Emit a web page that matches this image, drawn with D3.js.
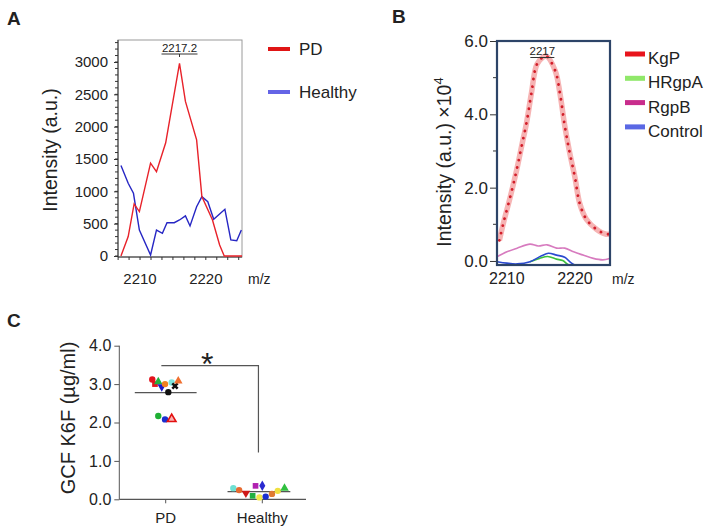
<!DOCTYPE html>
<html><head><meta charset="utf-8">
<script src="https://cdn.jsdelivr.net/npm/d3@7"></script>
<style>
html,body{margin:0;padding:0;background:#fff;}
text{font-family:"Liberation Sans",Arial,sans-serif;fill:#222;}
</style></head>
<body><svg id="c" width="711" height="531"></svg>
<script>
// ---------- Panel A data ----------
const aPdMz = [2207.1,2208.2,2209.1,2209.9,2211.6,2212.5,2213.9,2216.0,2216.9,2218.6,2219.4,2221.0,2222.1,2222.8,2225.5];
const aPdVal = [0,300,805,686,1435,1305,1750,2980,2390,1795,920,560,170,0,0];
const aHealthyMz = [2207.1,2208.2,2209.0,2209.9,2211.6,2212.5,2213.4,2214.1,2215.2,2216.0,2216.9,2217.6,2218.6,2219.4,2220.3,2221.2,2222.9,2223.8,2224.7,2225.4];
const aHealthyVal = [1400,1125,970,402,15,400,350,515,515,557,620,465,763,918,840,568,723,248,237,402];
const aYTicks = [0,500,1000,1500,2000,2500,3000];
const aXTicks = [2210,2220];
const aPeakLabel = "2217.2";
const aLegend = ["PD","Healthy"];

// ---------- Panel B data ----------
const bKgpMz = [2208.9,2209.5,2210.5,2211.4,2212.2,2212.9,2213.6,2214.4,2215.3,2215.8,2217.1,2217.8,2218.5,2219.2,2220.0,2220.7,2221.7,2223.2,2224.6,2225.2];
const bKgpVal = [0.56,1.04,1.75,2.45,3.16,3.78,4.57,5.36,5.56,5.59,5.19,4.57,3.69,2.98,2.28,1.57,1.13,0.86,0.73,0.74];
const bRgpbMz = [2208.6,2210.0,2211.5,2213.4,2214.6,2215.9,2217.3,2218.5,2219.8,2221.2,2222.7,2224.1,2225.1];
const bRgpbVal = [0.12,0.25,0.35,0.46,0.41,0.44,0.35,0.35,0.25,0.16,0.07,0.03,0.07];
const bControlMz = [2208.6,2210.0,2211.5,2213.4,2215.1,2216.1,2217.3,2218.5,2219.5,2220.5];
const bControlVal = [-0.02,-0.06,-0.08,-0.02,0.14,0.21,0.16,0.10,-0.06,-0.15];
const bHrgpaMz = [2213.4,2214.8,2216.0,2217.3,2218.2,2219.1,2220.0];
const bHrgpaVal = [-0.02,0.07,0.12,0.05,0.01,-0.11,-0.15];
const bYTicks = [0,2,4,6];
const bYMinor = [1,3,5];
const bXTicks = [2210,2220];
const bPeakLabel = "2217";
const bLegend = ["KgP","HRgpA","RgpB","Control"];

// ---------- Panel C data ----------
const cCategories = ["PD","Healthy"];
const cPdVal = [3.12,3.00,3.06,2.93,3.00,3.04,2.95,3.08,2.79,2.17,2.08,2.09];
const cPdJitter = [-0.139,-0.111,-0.077,-0.041,-0.007,0.062,0.096,0.130,0.027,-0.077,-0.007,0.062];
const cPdShape = ["circle","square","triangle","tridown","circle","circle","x","triangle","circle","circle","circle","triopen"];
const cPdColor = ["#e3121c","#e3121c","#22b040","#1a1ac8","#f08020","#7ee6de","#111111","#f07030","#111111","#1fb034","#1a2ed0","#e31010"];
const cHealthyVal = [0.29,0.24,0.16,0.09,0.35,0.05,0.35,0.07,0.14,0.22,0.29];
const cHealthyJitter = [-0.30,-0.24,-0.17,-0.10,-0.07,-0.03,0.0,0.035,0.10,0.16,0.23];
const cHealthyShape = ["circle","circle","tridown","square","square","circle","diamond","circle","circle","circle","triangle"];
const cHealthyColor = ["#6fe0d2","#e86a30","#d01818","#22b040","#b020b0","#f2e64a","#2a2ad0","#1a2ed0","#e07a30","#f0e040","#30c040"];
const cPdMean = 2.78, cHealthyMean = 0.20;
const cYTicks = [0,1,2,3,4];
const cSigTop = 3.48, cSigBottom = 1.22;

// ---------- drawing ----------
const svg = d3.select("#c");
const FONT = '"Liberation Sans",Arial,sans-serif';

function panelLabel(t,x,y){
  svg.append("text").attr("x",x).attr("y",y).attr("font-size",19).attr("font-weight","bold").attr("fill","#111").text(t);
}

// ===== Panel A =====
panelLabel("A",7,25);
{
  const L=118,R=242,T=40,B=257;
  const x = d3.scaleLinear().domain([2206.65,2225.5]).range([L,R]);
  const y = d3.scaleLinear().domain([0,3000]).range([256,62]);
  const g = svg.append("g");
  g.append("rect").attr("x",L).attr("y",T).attr("width",R-L).attr("height",B-T)
    .attr("fill","none").attr("stroke","#9a9a9a").attr("stroke-width",1);
  const yAxis = d3.axisLeft(y).tickValues(aYTicks).tickSize(4).tickPadding(6).tickFormat(d3.format("d"));
  const ya = g.append("g").attr("transform",`translate(${L},0)`).call(yAxis);
  ya.select(".domain").attr("d",`M0,${T}V${B}`).attr("stroke","#333");
  ya.selectAll("text").attr("font-size",15).attr("font-family",FONT).attr("fill","#222");
  ya.selectAll(".tick line").attr("stroke","#333");
  const yMinor = d3.range(0,3400,100);
  g.append("g").selectAll("line").data(yMinor).join("line")
    .attr("x1",L-3).attr("x2",L).attr("y1",d=>y(d)).attr("y2",d=>y(d)).attr("stroke","#333");
  g.append("line").attr("x1",L).attr("x2",R).attr("y1",B).attr("y2",B).attr("stroke","#333");
  const xMinor = d3.range(0,12).map(i=>2210+(i-2)*5/3).filter(v=>x(v)>=L&&x(v)<=R);
  g.append("g").selectAll("line").data(xMinor).join("line")
    .attr("x1",d=>x(d)).attr("x2",d=>x(d)).attr("y1",B).attr("y2",B+3).attr("stroke","#333");
  g.append("g").selectAll("text").data(aXTicks).join("text")
    .attr("x",d=>x(d)).attr("y",284).attr("text-anchor","middle").attr("font-size",15).text(d=>d);
  g.append("text").attr("x",248).attr("y",284).attr("font-size",14).text("m/z");
  g.append("text").attr("transform",`translate(57,150) rotate(-90)`).attr("text-anchor","middle")
    .attr("font-size",19.5).text("Intensity (a.u.)");
  const line = d3.line().x(d=>x(d[0])).y(d=>y(d[1]));
  g.append("path").datum(aHealthyMz.map((m,i)=>[m,aHealthyVal[i]])).attr("d",line)
    .attr("fill","none").attr("stroke","#2626c4").attr("stroke-width",1.4);
  g.append("path").datum(aPdMz.map((m,i)=>[m,aPdVal[i]])).attr("d",line)
    .attr("fill","none").attr("stroke","#e8222a").attr("stroke-width",1.4);
  const pk = aPdMz[aPdVal.indexOf(d3.max(aPdVal))];
  g.append("text").attr("x",x(pk)).attr("y",52).attr("text-anchor","middle").attr("font-size",11.5).text(aPeakLabel);
  g.append("line").attr("x1",x(pk)-18).attr("x2",x(pk)+18).attr("y1",54).attr("y2",54).attr("stroke","#333");
  g.append("line").attr("x1",x(pk)).attr("x2",x(pk)).attr("y1",54).attr("y2",57).attr("stroke","#333");
  const lc = ["#e01515","#6464e6"];
  aLegend.forEach((t,i)=>{
    const yy = 49 + i*43;
    g.append("rect").attr("x",268).attr("y",yy-2).attr("width",22).attr("height",4).attr("fill",lc[i]);
    g.append("text").attr("x",299).attr("y",yy+6).attr("font-size",17).text(t);
  });
}

// ===== Panel B =====
panelLabel("B",392,23);
{
  const L=497,R=610,T=41,B=265;
  const x = d3.scaleLinear().domain([2208.55,2225.15]).range([L,R]);
  const y = d3.scaleLinear().domain([-0.11,6.0]).range([B,T]);
  const g = svg.append("g");
  const clipId="clipB";
  g.append("clipPath").attr("id",clipId).append("rect").attr("x",L).attr("y",T).attr("width",R-L).attr("height",B-T);
  const ya = g.append("g").attr("transform",`translate(${L},0)`)
    .call(d3.axisLeft(y).tickValues(bYTicks).tickSize(7).tickPadding(2).tickFormat(d3.format(".1f")));
  ya.select(".domain").remove();
  ya.selectAll("text").attr("font-size",17).attr("font-family",FONT).attr("fill","#222");
  ya.selectAll(".tick line").attr("stroke","#333");
  g.append("g").selectAll("line").data(bYMinor).join("line")
    .attr("x1",L-4).attr("x2",L).attr("y1",d=>y(d)).attr("y2",d=>y(d)).attr("stroke","#333");
  g.append("g").selectAll("text").data(bXTicks).join("text")
    .attr("x",d=>x(d)).attr("y",284).attr("text-anchor","middle").attr("font-size",16).text(d=>d);
  g.append("text").attr("x",612).attr("y",284).attr("font-size",14).text("m/z");
  const yl = g.append("text").attr("transform",`translate(451,162) rotate(-90)`).attr("text-anchor","middle")
    .attr("font-size",19.5);
  yl.append("tspan").text("Intensity (a.u.) \u00d710");
  yl.append("tspan").attr("dy",-8).attr("font-size",13).text("4");
  const line = d3.line().x(d=>x(d[0])).y(d=>y(d[1])).curve(d3.curveCatmullRom);
  const lg = g.append("g").attr("clip-path",`url(#${clipId})`);
  const mk = (mz,v)=>mz.map((m,i)=>[m,v[i]]);
  lg.append("path").datum(mk(bRgpbMz,bRgpbVal)).attr("d",line).attr("fill","none").attr("stroke","#d77bbf").attr("stroke-width",1.6);
  lg.append("path").datum(mk(bHrgpaMz,bHrgpaVal)).attr("d",line).attr("fill","none").attr("stroke","#3cc03c").attr("stroke-width",1.6);
  lg.append("path").datum(mk(bControlMz,bControlVal)).attr("d",line).attr("fill","none").attr("stroke","#2a4ad0").attr("stroke-width",1.6);
  lg.append("path").datum(mk(bKgpMz,bKgpVal)).attr("d",line).attr("fill","none").attr("stroke","#f6b4b4").attr("stroke-width",5.5);
  lg.append("path").datum(mk(bKgpMz,bKgpVal)).attr("d",line).attr("fill","none").attr("stroke","#d21e2a")
    .attr("stroke-width",2.8).attr("stroke-linecap","round").attr("stroke-dasharray","0.1,7.4");
  g.append("rect").attr("x",L).attr("y",T).attr("width",R-L).attr("height",B-T)
    .attr("fill","none").attr("stroke","#2d4468").attr("stroke-width",2.2);
  const pk = bKgpMz[bKgpVal.indexOf(d3.max(bKgpVal))];
  g.append("text").attr("x",x(pk)-4).attr("y",55).attr("text-anchor","middle").attr("font-size",11.5).text(bPeakLabel);
  g.append("line").attr("x1",x(pk)-16).attr("x2",x(pk)+8).attr("y1",57.5).attr("y2",57.5).attr("stroke","#333");
  const lc = ["#e8141c","#90e86a","#c82c8c","#5a68e4"];
  bLegend.forEach((t,i)=>{
    const yy = 54 + i*24.3;
    g.append("rect").attr("x",625).attr("y",yy-2.5).attr("width",20).attr("height",5).attr("fill",lc[i]);
    g.append("text").attr("x",648).attr("y",yy+10).attr("font-size",17).text(t);
  });
}

// ===== Panel C =====
panelLabel("C",7,327);
{
  const L=119.3, XR=306;
  const y = d3.scaleLinear().domain([0,4]).range([499.3,345.7]);
  const x = d3.scaleLinear().domain([1,2]).range([165.7,262.3]);
  const g = svg.append("g");
  const ya = g.append("g").attr("transform",`translate(${L},0)`)
    .call(d3.axisLeft(y).tickValues(cYTicks).tickSize(5).tickPadding(3).tickFormat(d3.format(".1f")));
  ya.select(".domain").attr("d",`M0,${y(4)}V${y(0)}`).attr("stroke","#555");
  ya.selectAll(".tick line").attr("stroke","#555");
  ya.selectAll("text").attr("font-size",16).attr("font-family",FONT).attr("fill","#222");
  g.append("line").attr("x1",L).attr("x2",XR).attr("y1",y(0)).attr("y2",y(0)).attr("stroke","#555").attr("stroke-width",1.2);
  cCategories.forEach((c,i)=>{
    g.append("line").attr("x1",x(i+1)).attr("x2",x(i+1)).attr("y1",y(0)).attr("y2",y(0)+4).attr("stroke","#555");
    g.append("text").attr("x",x(i+1)).attr("y",523).attr("text-anchor","middle").attr("font-size",15).text(c);
  });
  g.append("text").attr("transform",`translate(75,418) rotate(-90)`).attr("text-anchor","middle")
    .attr("font-size",20).text("GCF K6F (\u00b5g/ml)");
  g.append("line").attr("x1",x(1-0.32)).attr("x2",x(1+0.32)).attr("y1",y(cPdMean)).attr("y2",y(cPdMean)).attr("stroke","#555").attr("stroke-width",1.2);
  g.append("line").attr("x1",x(2-0.36)).attr("x2",x(2+0.29)).attr("y1",y(cHealthyMean)).attr("y2",y(cHealthyMean)).attr("stroke","#555").attr("stroke-width",1.2);
  g.append("path").attr("d",`M${x(0.955)},${y(cSigTop)}H${x(1.96)}V${y(cSigBottom)}`).attr("fill","none").attr("stroke","#555").attr("stroke-width",1.2);
  g.append("text").attr("x",x(1.43)).attr("y",y(cSigTop)+9).attr("text-anchor","middle").attr("font-size",32).attr("fill","#111").text("*");
  function sym(shape){
    const size=32;
    if(shape==="circle") return d3.symbol(d3.symbolCircle,size)();
    if(shape==="square") return d3.symbol(d3.symbolSquare,size)();
    if(shape==="triangle"||shape==="tridown"||shape==="triopen") return d3.symbol(d3.symbolTriangle,size)();
    if(shape==="diamond") return d3.symbol(d3.symbolDiamond,size)();
    if(shape==="x") return d3.symbol(d3.symbolCross,size)();
    return d3.symbol(d3.symbolCircle,size)();
  }
  function drawPts(cat,vals,jit,shapes,cols){
    vals.forEach((v,i)=>{
      const s=shapes[i];
      const rot = s==="tridown"?180:(s==="x"?45:0);
      const p = g.append("path").attr("d",sym(s))
        .attr("transform",`translate(${x(cat+jit[i])},${y(v)}) rotate(${rot})`);
      if(s==="triopen") p.attr("fill","#f7b0b0").attr("stroke",cols[i]).attr("stroke-width",1.6);
      else p.attr("fill",cols[i]);
    });
  }
  drawPts(1,cPdVal,cPdJitter,cPdShape,cPdColor);
  drawPts(2,cHealthyVal,cHealthyJitter,cHealthyShape,cHealthyColor);
}
</script></body></html>
